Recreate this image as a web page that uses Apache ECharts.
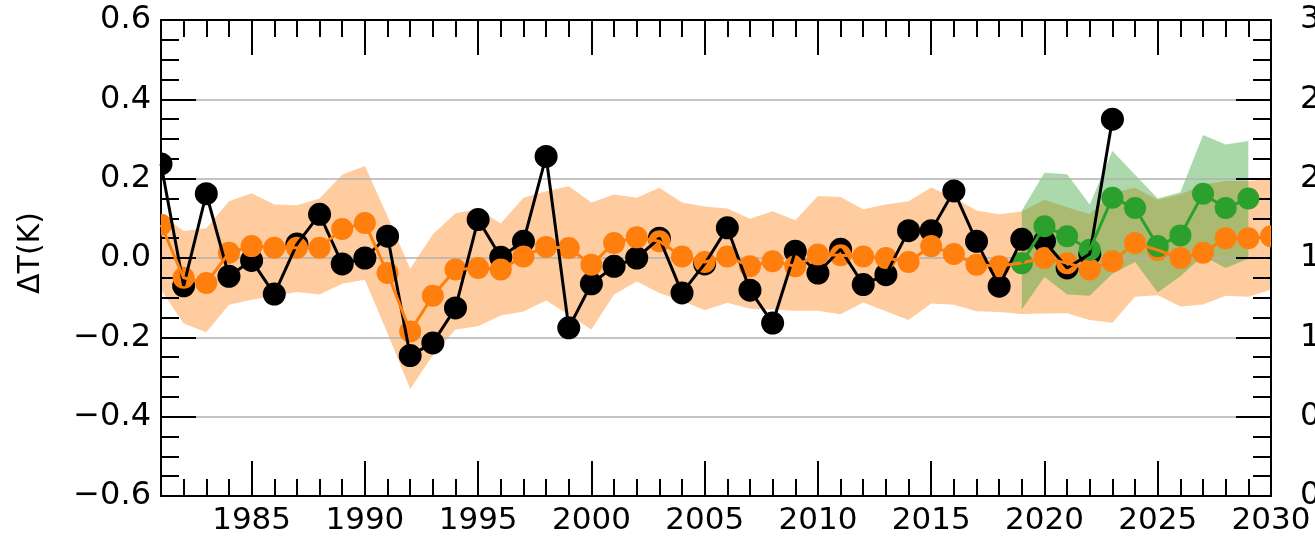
<!DOCTYPE html>
<html>
<head>
<meta charset="utf-8">
<script src="https://cdn.jsdelivr.net/npm/echarts@6/dist/echarts.min.js"></script>
<style>
  html, body { margin: 0; padding: 0; background: #ffffff; }
  #chart { width: 1315px; height: 540px; }
</style>
</head>
<body>
<div id="chart"></div>
<script>
// Years on the time axis
const years = [1981, 1982, 1983, 1984, 1985, 1986, 1987, 1988, 1989, 1990,
               1991, 1992, 1993, 1994, 1995, 1996, 1997, 1998, 1999, 2000,
               2001, 2002, 2003, 2004, 2005, 2006, 2007, 2008, 2009, 2010,
               2011, 2012, 2013, 2014, 2015, 2016, 2017, 2018, 2019, 2020,
               2021, 2022, 2023, 2024, 2025, 2026, 2027, 2028, 2029, 2030];
const obsYears = years.slice(0, 43);          // 1981-2023
const fcstYears = [2019, 2020, 2021, 2022, 2023, 2024, 2025, 2026, 2027, 2028, 2029];

// Observed temperature anomaly (K)
const obsAnom = [0.237, -0.070, 0.162, -0.046, -0.006, -0.091, 0.035, 0.110, -0.015, 0.000,
                 0.055, -0.246, -0.214, -0.126, 0.097, 0.002, 0.042, 0.256, -0.176, -0.065,
                 -0.021, 0.000, 0.050, -0.088, -0.015, 0.076, -0.081, -0.164, 0.017, -0.038,
                 0.022, -0.067, -0.042, 0.069, 0.069, 0.169, 0.042, -0.071, 0.047, 0.042,
                 -0.025, 0.010, 0.350];

// Hindcast ensemble mean and spread (K)
const hindMean = [0.084, -0.050, -0.063, 0.013, 0.030, 0.026, 0.026, 0.026, 0.073, 0.088,
                  -0.038, -0.185, -0.095, -0.029, -0.025, -0.029, 0.004, 0.028, 0.025, -0.017,
                  0.038, 0.052, 0.042, 0.004, -0.010, 0.004, -0.021, -0.008, -0.021, 0.009,
                  0.007, 0.004, 0.000, -0.010, 0.030, 0.010, -0.017, -0.021, -0.012, 0.000,
                  -0.013, -0.029, -0.008, 0.038, 0.020, 0.000, 0.013, 0.050, 0.050, 0.055];
const hindLo = [-0.080, -0.165, -0.187, -0.118, -0.105, -0.095, -0.086, -0.092, -0.065, -0.055,
                -0.190, -0.330, -0.245, -0.180, -0.172, -0.145, -0.135, -0.107, -0.143, -0.180,
                -0.092, -0.059, -0.088, -0.108, -0.132, -0.113, -0.128, -0.130, -0.133, -0.133,
                -0.142, -0.112, -0.134, -0.156, -0.115, -0.118, -0.134, -0.136, -0.141, -0.140,
                -0.139, -0.156, -0.163, -0.098, -0.094, -0.122, -0.117, -0.095, -0.098, -0.080];
const hindHi = [0.110, 0.068, 0.075, 0.143, 0.163, 0.135, 0.133, 0.150, 0.210, 0.232,
                0.105, -0.027, 0.060, 0.113, 0.123, 0.087, 0.152, 0.168, 0.181, 0.140,
                0.160, 0.152, 0.177, 0.140, 0.130, 0.125, 0.099, 0.118, 0.095, 0.156,
                0.154, 0.123, 0.135, 0.143, 0.178, 0.152, 0.120, 0.110, 0.117, 0.147,
                0.128, 0.110, 0.164, 0.177, 0.147, 0.160, 0.185, 0.194, 0.194, 0.200];

// Forecast ensemble mean and spread (K)
const fcstMean = [-0.013, 0.080, 0.055, 0.021, 0.152, 0.126, 0.030, 0.057, 0.162, 0.126, 0.150];
const fcstLo = [-0.130, -0.048, -0.092, -0.095, -0.040, -0.010, -0.087, -0.046, 0.005, -0.025, -0.002];
const fcstHi = [0.120, 0.215, 0.211, 0.135, 0.270, 0.210, 0.150, 0.166, 0.310, 0.286, 0.295];

// Tick positions along the time axis
const majorYearTicks = [1985, 1990, 1995, 2000, 2005, 2010, 2015, 2020, 2025, 2030];
const minorYearTicks = years.filter(y => y > 1981 && y < 2030 && y % 5 !== 0);

const FONT = 'DejaVu Sans';
const BLACK = '#000000';
const ORANGE = '#ff7f0e';
const GREEN = '#2ca02c';

function fmtTick(v) {
  const r = Math.round(v * 10) / 10;
  if (r === 0) return '0.0';
  return (r < 0 ? '\u2212' : '') + Math.abs(r).toFixed(1);
}

// Shaded spread between lower and upper bounds, drawn as one polygon
function bandSeries(xs, lo, hi, fill) {
  return {
    type: 'custom',
    z: 1,
    silent: true,
    clip: true,
    data: xs.map((x, i) => [x, lo[i], hi[i]]),
    encode: { x: 0, y: [1, 2] },
    renderItem: (params, api) => {
      if (params.dataIndex !== 0) return null;
      const pts = [];
      for (let i = 0; i < xs.length; i++) pts.push(api.coord([xs[i], hi[i]]));
      for (let i = xs.length - 1; i >= 0; i--) pts.push(api.coord([xs[i], lo[i]]));
      return { type: 'polygon', shape: { points: pts }, style: { fill: fill } };
    }
  };
}

function lineSeries(xs, vs, color) {
  return {
    type: 'line',
    z: 2,
    silent: true,
    clip: true,
    showSymbol: false,
    data: xs.map((x, i) => [x, vs[i]]),
    lineStyle: { color: color, width: 3 },
    itemStyle: { color: color }
  };
}

// Round markers, clipped at the plot frame
function dotSeries(xs, vs, color, r) {
  return {
    type: 'custom',
    z: 2,
    silent: true,
    clip: true,
    data: xs.map((x, i) => [x, vs[i]]),
    encode: { x: 0, y: 1 },
    renderItem: (params, api) => {
      const p = api.coord([api.value(0), api.value(1)]);
      return { type: 'circle', shape: { cx: p[0], cy: p[1], r: r }, style: { fill: color } };
    }
  };
}

const tickLine = { color: BLACK, width: 2 };

function timeAxis(position, ticks, len, withLine, withLabels) {
  return {
    type: 'value', gridIndex: 0, position: position, z: 1.5,
    min: 1981, max: 2030,
    axisLine: { show: withLine, onZero: false, lineStyle: { color: BLACK, width: 2 } },
    axisTick: { show: true, inside: true, length: len, customValues: ticks, lineStyle: tickLine },
    axisLabel: withLabels ? {
      show: true, customValues: ticks, color: BLACK, fontFamily: FONT, fontSize: 31, margin: 9,
      formatter: v => String(v)
    } : { show: false },
    splitLine: { show: false }
  };
}

function valueAxis(position, withLabels) {
  return {
    type: 'value', gridIndex: 0, position: position, z: 1.5,
    min: -0.6, max: 0.6, interval: 0.2,
    axisLine: { show: true, onZero: false, lineStyle: { color: BLACK, width: 2 } },
    axisTick: { show: true, inside: true, length: 35, lineStyle: tickLine },
    minorTick: { show: true, splitNumber: 4, length: 18, lineStyle: tickLine },
    minorSplitLine: { show: false },
    axisLabel: withLabels ? {
      show: true, color: BLACK, fontFamily: FONT, fontSize: 32, margin: 10, formatter: fmtTick
    } : { show: false },
    splitLine: withLabels ? { show: true, lineStyle: { color: '#b0b0b0', width: 1.5 } } : { show: false }
  };
}

const chart = echarts.init(document.getElementById('chart'), null, { renderer: 'canvas' });

chart.setOption({
  animation: false,
  backgroundColor: '#ffffff',
  grid: [
    { left: 161, right: 44, top: 20, bottom: 44 },
    // neighbouring panel, only its tick labels reach into view
    { left: 1361, width: 400, top: 20, bottom: 44 }
  ],
  xAxis: [
    timeAxis('bottom', majorYearTicks, 35, true, true),
    timeAxis('bottom', minorYearTicks, 17, false, false),
    timeAxis('top', majorYearTicks, 35, true, false),
    timeAxis('top', minorYearTicks, 17, false, false),
    { type: 'value', gridIndex: 1, min: 0, max: 1, show: false }
  ],
  yAxis: [
    valueAxis('left', true),
    valueAxis('right', false),
    {
      type: 'value', gridIndex: 1, position: 'left', min: 0, max: 3, interval: 0.5,
      axisLine: { show: false }, axisTick: { show: false }, splitLine: { show: false },
      axisLabel: { color: BLACK, fontFamily: FONT, fontSize: 32, margin: 10, formatter: v => v.toFixed(1) }
    }
  ],
  graphic: [
    {
      type: 'text',
      x: 31, y: 253,
      rotation: Math.PI / 2,
      style: {
        text: '\u0394T(K)',
        fill: BLACK,
        font: '30px "DejaVu Sans"',
        align: 'center',
        verticalAlign: 'middle'
      }
    }
  ],
  series: [
    bandSeries(years, hindLo, hindHi, 'rgba(255,127,14,0.4)'),
    bandSeries(fcstYears, fcstLo, fcstHi, 'rgba(44,160,44,0.4)'),
    lineSeries(obsYears, obsAnom, BLACK),
    dotSeries(obsYears, obsAnom, BLACK, 11.5),
    lineSeries(years, hindMean, ORANGE),
    dotSeries(years, hindMean, ORANGE, 11),
    lineSeries(fcstYears, fcstMean, GREEN),
    dotSeries(fcstYears, fcstMean, GREEN, 11)
  ]
});
</script>
</body>
</html>
